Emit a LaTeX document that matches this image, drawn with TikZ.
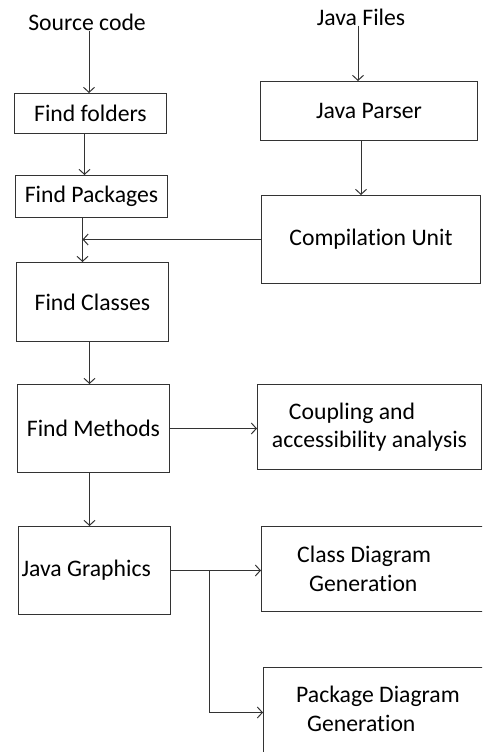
\documentclass[tikz,border=0pt]{standalone}
\usepackage{fontspec}
\setmainfont{Carlito}[Ligatures=NoCommon]
\usetikzlibrary{positioning,arrows.meta}

\begin{document}
\begin{tikzpicture}
    [x=1pt,y=-1pt,
     b/.style={draw=black!80,line width=1pt,anchor=north west,inner sep=0pt,align=center,
       font=\fontsize{23.7}{28.5}\selectfont},
     t/.style={inner sep=0pt,align=left,font=\fontsize{23.7}{28.5}\selectfont},
     arr/.style={draw=black!80,line width=1pt,-{Straight Barb[length=5pt,width=11pt]}}]
    \useasboundingbox (0,0) rectangle (482,752);
    \clip (0,0) rectangle (482,752);
    % inputs
    \node[t] (src) at (87,22) {Source code};
    \node[t] (jf) at (361,17) {Java Files};
    % left column
    \node[b,minimum width=152pt,minimum height=40pt] (fold) at (14,93) {Find folders};
    \node[b,minimum width=152pt,minimum height=42pt] (pack) at (15,175) {Find Packages};
    \node[b,minimum width=152pt,minimum height=79pt] (cls) at (16,262) {Find Classes};
    \node[b,minimum width=152pt,minimum height=88pt] (meth) at (17,384) {Find Methods};
    \node[b,minimum width=152pt,minimum height=88pt] (jg) at (18,526) {\raisebox{4pt}{\makebox[146pt][l]{Java Graphics}}};
    % right column
    \node[b,minimum width=217pt,minimum height=59pt] (jp) at (260,81) {Java Parser};
    \node[b,minimum width=219pt,minimum height=88pt] (cu) at (261,195) {Compilation Unit};
    \node[b,minimum width=224pt,minimum height=85pt,align=left] (coup) at (257,384) {\hspace*{17pt}Coupling and\\accessibility analysis};
    \node[b,minimum width=240pt,minimum height=85pt] (cdg) at (261,526) {};
    \node[t,anchor=west] (cdgt) at (297,569) {Class Diagram\\\hspace*{12pt}Generation};
    \node[b,minimum width=240pt,minimum height=90pt] (pdg) at (263,667) {};
    \node[t,anchor=west] (pdgt) at (296,709) {Package Diagram\\\hspace*{11pt}Generation};
    % connectors
    \coordinate (jn) at ([xshift=-9pt]pack.south);
    \coordinate (br) at ([xshift=38pt]jg.east);
    \draw[arr] ([xshift=2pt]src.south) -- ([xshift=2pt]src.south |- fold.north);
    \draw[arr] ([xshift=-3pt]jf.south) -- ([xshift=-3pt]jf.south |- jp.north);
    \draw[arr] ([xshift=-6pt]fold.south) -- ([xshift=-6pt]fold.south |- pack.north);
    \draw[arr] ([xshift=-8pt]jp.south) -- ([xshift=-8pt]jp.south |- cu.north);
    \draw[arr] (jn) -- (jn |- cls.north);
    \draw[arr] (cu.west) -- (cu.west -| jn);
    \draw[arr] ([xshift=-3pt]cls.south) -- ([xshift=-3pt]cls.south |- meth.north);
    \draw[arr] (meth.east) -- (meth.east -| coup.west);
    \draw[arr] ([xshift=-4pt]meth.south) -- ([xshift=-4pt]meth.south |- jg.north);
    \draw[arr] (jg.east) -- (jg.east -| cdg.west);
    \draw[arr] (br) |- (pdg.west);
\end{tikzpicture}
\end{document}
